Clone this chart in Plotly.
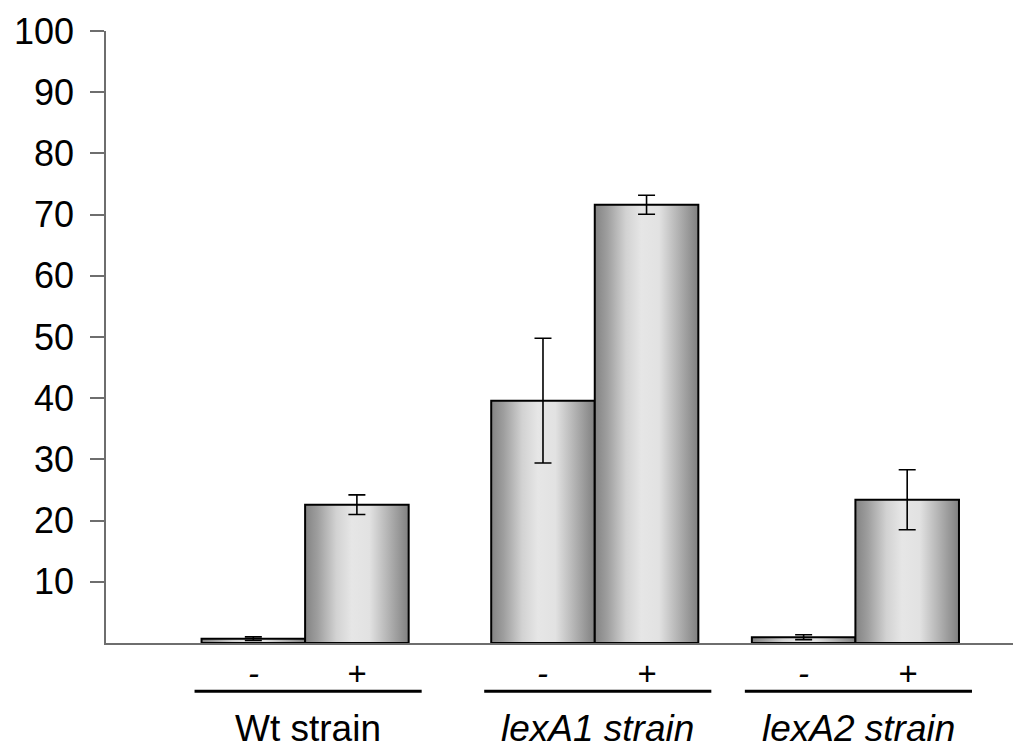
import plotly.graph_objects as go

# Strains and treatment conditions
groups = ["Wt strain", "lexA1 strain", "lexA2 strain"]
group_italic = [False, True, True]
treatments = ["-", "+"]

# Measured values (mean) and error (±) for each strain, without (-) and with (+) treatment
values_minus = [0.7, 39.6, 0.95]
values_plus = [22.6, 71.6, 23.4]
err_minus = [0.3, 10.2, 0.4]
err_plus = [1.6, 1.55, 4.9]

y_tick_values = [10, 20, 30, 40, 50, 60, 70, 80, 90, 100]

# Layout of the bar groups along the horizontal axis
X_RANGE = [0, 906.5]
GROUP_CENTERS = [199, 488.5, 749]
BAR_WIDTH = 103.5
UNDERLINE_HALF = 113.5
UNDERLINE_SHIFT = 3

FONT = "Liberation Sans, Arial, Helvetica, sans-serif"
AXIS_GRAY = "#6e6e6e"

# cylinder-like shading from dark edges to a light middle
shade = [
    [0.0, "#838383"],
    [0.12, "#9e9e9e"],
    [0.3, "#d2d2d2"],
    [0.45, "#e6e6e6"],
    [0.62, "#e2e2e2"],
    [0.8, "#b4b4b4"],
    [1.0, "#808080"],
]

fig = go.Figure()

centers = []
heights = []
errors = []
for gi, center in enumerate(GROUP_CENTERS):
    for ti, (vals, errs) in enumerate([(values_minus, err_minus), (values_plus, err_plus)]):
        left = center - BAR_WIDTH if ti == 0 else center
        right = left + BAR_WIDTH
        v = vals[gi]
        fig.add_trace(go.Scatter(
            x=[left, left, right, right, left],
            y=[0, v, v, 0, 0],
            mode="lines",
            fill="toself",
            fillgradient=dict(type="horizontal", colorscale=shade),
            line=dict(color="#000000", width=2),
            hoverinfo="skip",
            showlegend=False,
        ))
        centers.append((left + right) / 2)
        heights.append(v)
        errors.append(errs[gi])

# error bars
fig.add_trace(go.Scatter(
    x=centers,
    y=heights,
    mode="markers",
    marker=dict(size=2, opacity=0),
    error_y=dict(type="data", array=errors, visible=True,
                 color="#000000", thickness=1.6, width=8.5),
    showlegend=False,
    hoverinfo="skip",
))

annotations = []
shapes = []
for gi, center in enumerate(GROUP_CENTERS):
    # treatment labels under each bar
    for ti, sym in enumerate(treatments):
        xpos = center - BAR_WIDTH / 2 if ti == 0 else center + BAR_WIDTH / 2
        annotations.append(dict(
            x=xpos, y=-0.0502, xref="x", yref="paper",
            text="<i>" + sym + "</i>", showarrow=False,
            font=dict(family=FONT, size=33, color="#000000"),
            xanchor="center", yanchor="middle",
        ))
    # underline for the group
    shapes.append(dict(
        type="line", xref="x", yref="paper",
        x0=center + UNDERLINE_SHIFT - UNDERLINE_HALF,
        x1=center + UNDERLINE_SHIFT + UNDERLINE_HALF,
        y0=-0.0788, y1=-0.0788,
        line=dict(color="#000000", width=3),
    ))
    label = groups[gi]
    if group_italic[gi]:
        label = "<i>" + label + "</i>"
    annotations.append(dict(
        x=center + UNDERLINE_SHIFT, y=-0.1405, xref="x", yref="paper",
        text=label, showarrow=False,
        font=dict(family=FONT, size=37, color="#000000"),
        xanchor="center", yanchor="middle",
    ))

fig.update_layout(
    width=1013,
    height=750,
    margin=dict(l=106, r=0, t=31, b=107, pad=0),
    paper_bgcolor="#ffffff",
    plot_bgcolor="#ffffff",
    showlegend=False,
    annotations=annotations,
    shapes=shapes,
    xaxis=dict(
        range=X_RANGE,
        showgrid=False,
        zeroline=False,
        showticklabels=False,
        ticks="",
        showline=True,
        linecolor=AXIS_GRAY,
        linewidth=1.5,
        fixedrange=True,
    ),
    yaxis=dict(
        range=[0, 100],
        tickvals=y_tick_values,
        ticktext=[str(v) for v in y_tick_values],
        ticks="outside",
        ticklen=14,
        tickwidth=1.5,
        tickcolor=AXIS_GRAY,
        ticklabelstandoff=9,
        showgrid=False,
        zeroline=False,
        showline=True,
        linecolor=AXIS_GRAY,
        linewidth=1.5,
        tickfont=dict(family=FONT, size=36, color="#000000"),
        fixedrange=True,
    ),
)

fig.write_html("out.html")
